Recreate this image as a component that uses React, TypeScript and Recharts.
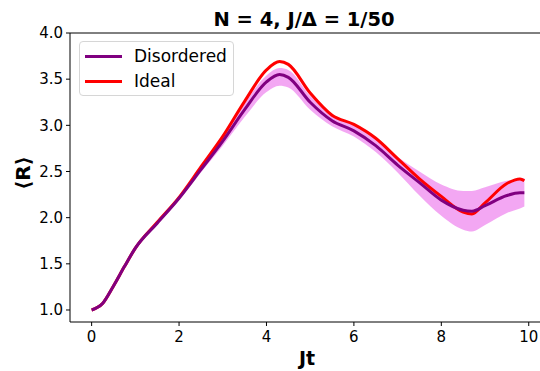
import React from 'react';
import { ComposedChart, Line, Area, XAxis, YAxis, Legend, ReferenceLine } from 'recharts';

// Jt sample points
const times = [0, 0.25, 0.5, 0.75, 1, 1.5, 2, 2.5, 3, 3.5, 4, 4.3, 4.5, 5, 5.5, 6, 6.5, 7, 7.5, 8, 8.5, 8.7, 9, 9.5, 9.8, 9.9];
const disordered = [1.0, 1.07, 1.26, 1.47, 1.67, 1.94, 2.21, 2.52, 2.83, 3.17, 3.47, 3.55, 3.52, 3.25, 3.05, 2.94, 2.78, 2.57, 2.38, 2.19, 2.08, 2.07, 2.13, 2.24, 2.27, 2.27];
const ideal = [1.0, 1.07, 1.26, 1.47, 1.67, 1.95, 2.22, 2.55, 2.88, 3.26, 3.6, 3.69, 3.66, 3.35, 3.11, 3.01, 2.86, 2.64, 2.42, 2.23, 2.06, 2.04, 2.16, 2.37, 2.42, 2.4];
const bandLow = [1.0, 1.07, 1.255, 1.465, 1.66, 1.93, 2.19, 2.49, 2.78, 3.09, 3.36, 3.43, 3.41, 3.17, 2.99, 2.88, 2.71, 2.49, 2.24, 2.02, 1.87, 1.85, 1.92, 2.05, 2.1, 2.12];
const bandHigh = [1.0, 1.07, 1.265, 1.475, 1.68, 1.96, 2.23, 2.56, 2.87, 3.24, 3.54, 3.62, 3.6, 3.32, 3.11, 3.0, 2.86, 2.66, 2.5, 2.36, 2.29, 2.29, 2.33, 2.4, 2.42, 2.43];

const xTicks = [0, 2, 4, 6, 8, 10];
const yTicks = [1.0, 1.5, 2.0, 2.5, 3.0, 3.5, 4.0];

const FONT = '"DejaVu Sans", sans-serif';

const data = times.map((t, i) => ({
    t,
    disordered: disordered[i],
    ideal: ideal[i],
    band: [bandLow[i], bandHigh[i]],
}));

const legendItems = [
    { name: 'Disordered', color: '#800080' },
    { name: 'Ideal', color: '#ff0000' },
];

function renderLegend() {
    return (
        <div style={{
            width: 153, height: 53, border: '1px solid #d6d6d6', borderRadius: 4,
            background: 'rgba(255,255,255,0.8)', boxSizing: 'content-box', position: 'relative',
        }}>
            {legendItems.map((item, i) => (
                <div key={item.name} style={{ position: 'absolute', left: 5, top: 3 + i * 25, height: 22, display: 'flex', alignItems: 'center' }}>
                    <div style={{ width: 37, height: 3, background: item.color }} />
                    <span style={{ marginLeft: 12, fontFamily: FONT, fontSize: 17, color: '#000' }}>{item.name}</span>
                </div>
            ))}
        </div>
    );
}

export default function App() {
    return (
        <div style={{ position: 'absolute', left: 0, top: 0, width: 540, height: 371, overflow: 'hidden', background: '#fff' }}>
            <ComposedChart width={547} height={371} data={data} margin={{ top: 33, right: 1, bottom: 0, left: 0 }}>
                <XAxis
                    dataKey="t"
                    type="number"
                    domain={[-0.495, 10.395]}
                    ticks={xTicks}
                    allowDataOverflow
                    height={49}
                    tickSize={4}
                    tickMargin={5}
                    stroke="#000"
                    tick={{ fill: '#000', fontSize: 15, fontFamily: FONT }}
                />
                <YAxis
                    type="number"
                    domain={[0.87, 4.0]}
                    ticks={yTicks}
                    allowDataOverflow
                    width={70}
                    tickSize={4}
                    tickMargin={3}
                    stroke="#000"
                    tickFormatter={(v: number) => v.toFixed(1)}
                    tick={{ fill: '#000', fontSize: 15, fontFamily: FONT }}
                />
                <ReferenceLine y={4.0} stroke="#000" />
                <Area
                    type="monotone"
                    dataKey="band"
                    stroke="none"
                    fill="#ee82ee"
                    fillOpacity={0.7}
                    isAnimationActive={false}
                    legendType="none"
                />
                <Line type="monotone" dataKey="ideal" stroke="#ff0000" strokeWidth={3} dot={false} isAnimationActive={false} name="Ideal" />
                <Line type="monotone" dataKey="disordered" stroke="#800080" strokeWidth={3} dot={false} isAnimationActive={false} name="Disordered" />
                <Legend
                    layout="vertical"
                    align="center"
                    verticalAlign="middle"
                    content={renderLegend}
                    wrapperStyle={{ left: 79, top: 41, width: 155 }}
                />
            </ComposedChart>
            <svg width={540} height={371} style={{ position: 'absolute', left: 0, top: 0, pointerEvents: 'none' }}>
                <text x={304} y={26} textAnchor="middle" fontFamily={FONT} fontWeight="bold" fontSize={19.5} fill="#000">
                    N = 4, J/Δ = 1/50
                </text>
                <text x={307} y={365} textAnchor="middle" fontFamily={FONT} fontWeight="bold" fontSize={19} fill="#000">
                    Jt
                </text>
                <text x={30} y={173} textAnchor="middle" fontFamily={FONT} fontWeight="bold" fontSize={20} fill="#000" transform="rotate(-90 30 173)">
                    ⟨R⟩
                </text>
            </svg>
        </div>
    );
}
